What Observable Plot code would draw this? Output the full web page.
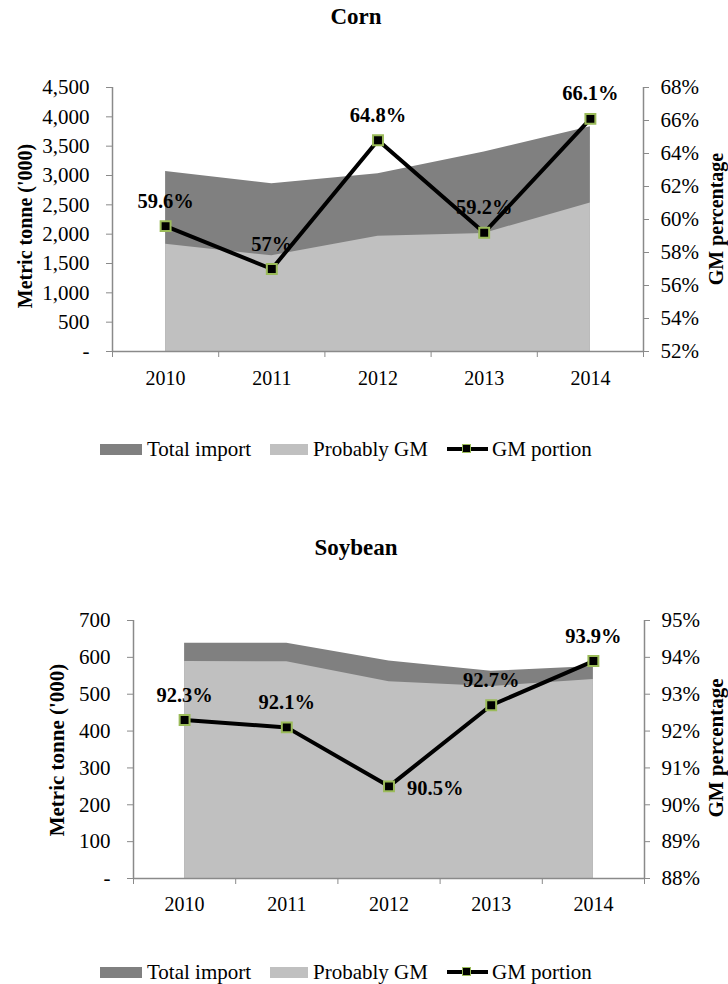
<!DOCTYPE html>
<html><head><meta charset="utf-8">
<script src="https://cdn.jsdelivr.net/npm/d3@7"></script>
<script src="https://cdn.jsdelivr.net/npm/@observablehq/plot@0.6"></script>
<style>
body{margin:0;background:#fff;font-family:"Liberation Serif","Times New Roman",serif;color:#000;}
#page{position:relative;width:728px;height:984px;overflow:hidden;background:#fff;}
.title{position:absolute;left:0;width:712px;text-align:center;font-weight:bold;font-size:23px;line-height:30px;}
.chart{position:absolute;left:0;}
.legend{position:absolute;left:0;width:728px;height:24px;font-size:21px;}
.sw{position:absolute;top:7px;height:11px;}
.lt{position:absolute;top:0;line-height:24px;white-space:nowrap;}
.ln{position:absolute;top:10px;height:4px;background:#000;}
.mk{position:absolute;top:7px;width:7px;height:7px;background:#000;border:1.5px solid #9bbb59;}
.atitle{position:absolute;font-weight:bold;white-space:nowrap;line-height:1;transform:translate(-50%,-50%) rotate(-90deg);}
</style></head><body><div id="page"></div>
<script>
const years = [2010, 2011, 2012, 2013, 2014];
const cornTotal = [3070, 2860, 3030, 3400, 3830];
const cornGM = [1830, 1630, 1964, 2013, 2532];
const cornPct = [59.6, 57.0, 64.8, 59.2, 66.1];
const cornPctLabels = ["59.6%", "57%", "64.8%", "59.2%", "66.1%"];
const soyTotal = [638, 638, 590, 562, 575];
const soyGM = [589, 588, 534, 521, 540];
const soyPct = [92.3, 92.1, 90.5, 92.7, 93.9];
const soyPctLabels = ["92.3%", "92.1%", "90.5%", "92.7%", "93.9%"];
const cornLeftTicks = [0, 500, 1000, 1500, 2000, 2500, 3000, 3500, 4000, 4500];
const cornRightTicks = [52, 54, 56, 58, 60, 62, 64, 66, 68];
const soyLeftTicks = [0, 100, 200, 300, 400, 500, 600, 700];
const soyRightTicks = [88, 89, 90, 91, 92, 93, 94, 95];
const titles = ["Corn", "Soybean"];
const leftTitle = "Metric tonne ('000)";
const rightTitle = "GM percentage";
const legendLabels = ["Total import", "Probably GM", "GM portion"];

const AX = "#8a8a8a";
const page = document.getElementById("page");

function makeChart(o) {
  const yMax = o.leftTicks[o.leftTicks.length - 1];
  const pMin = o.rightTicks[0], pMax = o.rightTicks[o.rightTicks.length - 1];
  const toY = p => (p - pMin) / (pMax - pMin) * yMax;
  const rows = years.map((year, i) => ({year, total: o.total[i], gm: o.gm[i], py: toY(o.pct[i]), label: o.labels[i]}));
  const bounds = [...years.map(y => y - 0.5), years[years.length - 1] + 0.5];
  const dom = [bounds[0], bounds[bounds.length - 1]];
  const right = o.rightLabelIdx;
  return Plot.plot({
    width: 728, height: o.height,
    marginTop: o.mt, marginBottom: o.mb, marginLeft: o.ml, marginRight: o.mr,
    x: {domain: dom},
    y: {domain: [0, yMax]},
    style: {fontFamily: '"Liberation Serif","Times New Roman",serif', fontSize: "21px", color: "#000", background: "transparent", overflow: "visible"},
    marks: [
      Plot.areaY(rows, {x: "year", y: "total", fill: "#808080"}),
      Plot.areaY(rows, {x: "year", y: "gm", fill: "#c0c0c0"}),
      Plot.ruleX(dom, {stroke: AX, strokeWidth: 1.5}),
      Plot.ruleY([0], {stroke: AX, strokeWidth: 1.5}),
      Plot.axisY({ticks: o.leftTicks, tickFormat: d => d === 0 ? "-" : d3.format(",")(d), tickSize: 6, tickPadding: 17, stroke: AX, fill: "#000", label: null}),
      Plot.axisY({anchor: "right", ticks: o.rightTicks.map(toY), tickFormat: v => Math.round(pMin + v / yMax * (pMax - pMin)) + "%", tickSize: 5, tickPadding: 12, stroke: AX, fill: "#000", label: null}),
      Plot.axisX({ticks: bounds, tickFormat: () => "", tickSize: 6, stroke: AX, label: null}),
      Plot.axisX({ticks: years, tickFormat: d => String(d), tickSize: 0, tickPadding: o.xpad, fill: "#000", fontSize: 20, label: null}),
      Plot.text(rows.filter(d => d.year !== right), {x: "year", y: "py", text: "label", dy: -25, fontWeight: "bold", fontSize: 20.5, fill: "#000"}),
      Plot.text(rows.filter(d => d.year === right), {x: "year", y: "py", text: "label", dx: 18, dy: 2, textAnchor: "start", fontWeight: "bold", fontSize: 20.5, fill: "#000"}),
      Plot.line(rows, {x: "year", y: "py", stroke: "#000", strokeWidth: 4}),
      Plot.dot(rows, {x: "year", y: "py", symbol: "square", r: 5.6, fill: "#000", stroke: "#9bbb59", strokeWidth: 2})
    ]
  });
}

function addTitle(text, top) {
  const d = document.createElement("div");
  d.className = "title"; d.style.top = top + "px"; d.textContent = text;
  page.appendChild(d);
}
function addAxisTitle(text, cx, cy, fs) {
  const d = document.createElement("div");
  d.className = "atitle";
  d.style.left = cx + "px"; d.style.top = cy + "px"; d.style.fontSize = fs + "px";
  d.textContent = text;
  page.appendChild(d);
}
function addChart(svg, top) {
  const w = document.createElement("div");
  w.className = "chart"; w.style.top = top + "px";
  w.appendChild(svg); page.appendChild(w);
}
function addLegend(top) {
  const L = document.createElement("div");
  L.className = "legend"; L.style.top = top + "px";
  L.innerHTML =
    `<div class="sw" style="left:100px;width:42px;background:#808080"></div>` +
    `<div class="lt" style="left:147px">${legendLabels[0]}</div>` +
    `<div class="sw" style="left:270px;width:38px;background:#c0c0c0"></div>` +
    `<div class="lt" style="left:313px">${legendLabels[1]}</div>` +
    `<div class="ln" style="left:447px;width:41px"></div>` +
    `<div class="mk" style="left:462px"></div>` +
    `<div class="lt" style="left:492px">${legendLabels[2]}</div>`;
  page.appendChild(L);
}

addTitle(titles[0], 2);
addChart(makeChart({
  total: cornTotal, gm: cornGM, pct: cornPct, labels: cornPctLabels,
  leftTicks: cornLeftTicks, rightTicks: cornRightTicks,
  height: 360, mt: 47, mb: 49, ml: 112, mr: 85, xpad: 19, rightLabelIdx: null
}), 40);
addAxisTitle(leftTitle, 25, 226, 20);
addAxisTitle(rightTitle, 716, 219, 20);
addLegend(437);

addTitle(titles[1], 533);
addChart(makeChart({
  total: soyTotal, gm: soyGM, pct: soyPct, labels: soyPctLabels,
  leftTicks: soyLeftTicks, rightTicks: soyRightTicks,
  height: 345, mt: 50, mb: 37, ml: 133, mr: 84, xpad: 18, rightLabelIdx: 2012
}), 570);
addAxisTitle(leftTitle, 57, 750, 21);
addAxisTitle(rightTitle, 716, 748, 21);
addLegend(960);
</script></body></html>
